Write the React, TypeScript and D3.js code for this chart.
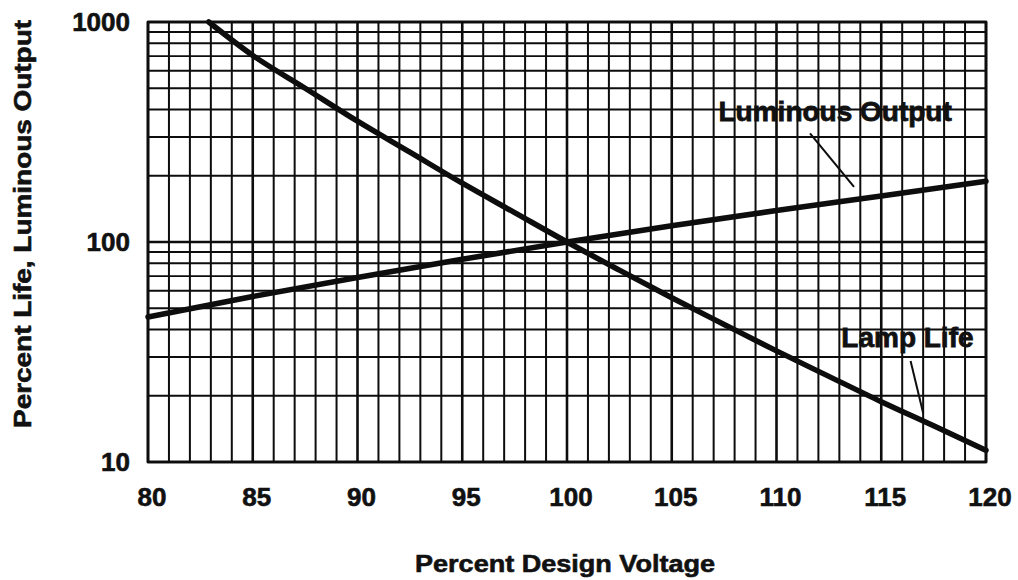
import React, {useEffect, useRef} from "react"
import * as d3 from "d3"

// percent design voltage (x) vs percent of rated value (y, log)
const lifeVoltage = [82.9, 85, 87.5, 90, 92.5, 95, 97.5, 100, 102.5, 105, 107.5, 110, 112.5, 115, 117.5, 120]
const lampLife = [1000, 705, 500, 354, 256, 185, 136, 100, 74.5, 55.8, 42.2, 32.0, 24.5, 18.8, 14.6, 11.3]

const outputVoltage = [80, 85, 90, 95, 100, 105, 110, 115, 120]
const luminousOutput = [45.6, 56.5, 69.0, 83.5, 100, 118.5, 139, 162, 189]

const xTicks = [80, 85, 90, 95, 100, 105, 110, 115, 120]
const yTicks = [10, 100, 1000]

// label text, label anchor [x, y], leader line [x1, y1, x2, y2]
const labelText = ["Luminous Output", "Lamp Life"]
const labelPos: Array<[number, number]> = [[112.8, 355], [116.25, 33.4]]
const leaders: Array<[number, number, number, number]> = [[111.6, 312, 113.7, 178], [116.4, 28.8, 117.0, 16.7]]

const width = 1018
const height = 580
const margin = {top: 22, right: 32, bottom: 118, left: 148}

const App = () => {
    const ref = useRef<SVGSVGElement>(null)

    useEffect(() => {
        const svg = d3.select(ref.current)
        svg.selectAll("*").remove()

        const x = d3.scaleLinear().domain([80, 120]).range([margin.left, width - margin.right])
        const y = d3.scaleLog().domain([10, 1000]).range([height - margin.bottom, margin.top])
        const font = "'Liberation Sans', Arial, sans-serif"

        // vertical grid, one line per percent
        const grid = svg.append("g").attr("stroke", "#0d0d0d")
        grid.selectAll("line.v")
            .data(d3.range(80, 121))
            .join("line")
            .attr("x1", d => x(d)).attr("x2", d => x(d))
            .attr("y1", y(1000)).attr("y2", y(10))
            .attr("stroke-width", d => (d % 5 === 0 ? 2.6 : 2))

        // horizontal log grid
        const yGrid: number[] = []
        for (const dec of [10, 100]) for (let k = 1; k <= 10; k++) yGrid.push(dec * k)
        grid.selectAll("line.h")
            .data(Array.from(new Set(yGrid)))
            .join("line")
            .attr("x1", x(80)).attr("x2", x(120))
            .attr("y1", d => y(d)).attr("y2", d => y(d))
            .attr("stroke-width", d => (yTicks.includes(d) ? 2.6 : 1.9))

        svg.append("rect")
            .attr("x", x(80)).attr("y", y(1000))
            .attr("width", x(120) - x(80)).attr("height", y(10) - y(1000))
            .attr("fill", "none").attr("stroke", "#0d0d0d").attr("stroke-width", 2.6)

        const line = d3.line<[number, number]>()
            .x(d => x(d[0]))
            .y(d => y(d[1]))
            .curve(d3.curveMonotoneX)

        const curves = [
            d3.zip(lifeVoltage, lampLife) as Array<[number, number]>,
            d3.zip(outputVoltage, luminousOutput) as Array<[number, number]>,
        ]
        svg.append("g").selectAll("path")
            .data(curves)
            .join("path")
            .attr("d", d => line(d))
            .attr("fill", "none")
            .attr("stroke", "#0d0d0d")
            .attr("stroke-width", 5.5)
            .attr("stroke-linecap", "round")

        // leader lines and curve labels
        svg.append("g").selectAll("line")
            .data(leaders)
            .join("line")
            .attr("x1", d => x(d[0])).attr("y1", d => y(d[1]))
            .attr("x2", d => x(d[2])).attr("y2", d => y(d[3]))
            .attr("stroke", "#0d0d0d").attr("stroke-width", 2)

        svg.append("g").selectAll("text")
            .data(labelText)
            .join("text")
            .attr("x", (_, i) => x(labelPos[i][0]))
            .attr("y", (_, i) => y(labelPos[i][1]))
            .attr("text-anchor", "middle")
            .attr("font-family", font).attr("font-weight", "bold").attr("font-size", 28)
            .attr("fill", "#111").attr("stroke", "#111").attr("stroke-width", 0.8)
            .text(d => d)

        // axes tick labels
        svg.append("g").selectAll("text")
            .data(xTicks)
            .join("text")
            .attr("x", d => x(d) + 4)
            .attr("y", y(10) + 44)
            .attr("text-anchor", "middle")
            .attr("font-family", font).attr("font-weight", "bold").attr("font-size", 26)
            .attr("fill", "#111").attr("stroke", "#111").attr("stroke-width", 0.6)
            .text(d => d)

        svg.append("g").selectAll("text")
            .data(yTicks)
            .join("text")
            .attr("x", margin.left - 18)
            .attr("y", d => y(d) + 9)
            .attr("text-anchor", "end")
            .attr("font-family", font).attr("font-weight", "bold").attr("font-size", 26)
            .attr("fill", "#111").attr("stroke", "#111").attr("stroke-width", 0.6)
            .text(d => d)

        svg.append("text")
            .attr("x", 565).attr("y", 572)
            .attr("text-anchor", "middle")
            .attr("textLength", 300).attr("lengthAdjust", "spacingAndGlyphs")
            .attr("font-family", font).attr("font-weight", "bold").attr("font-size", 24)
            .attr("fill", "#111").attr("stroke", "#111").attr("stroke-width", 0.6)
            .text("Percent Design Voltage")

        svg.append("text")
            .attr("transform", "translate(31, 224) rotate(-90)")
            .attr("text-anchor", "middle")
            .attr("textLength", 408).attr("lengthAdjust", "spacingAndGlyphs")
            .attr("font-family", font).attr("font-weight", "bold").attr("font-size", 24)
            .attr("fill", "#111").attr("stroke", "#111").attr("stroke-width", 0.6)
            .text("Percent Life, Luminous Output")
    }, [])

    return (
        <svg
            ref={ref}
            width={width}
            height={height}
            style={{position: "absolute", left: 0, top: 0, background: "white"}}
        />
    )
}

export default App
